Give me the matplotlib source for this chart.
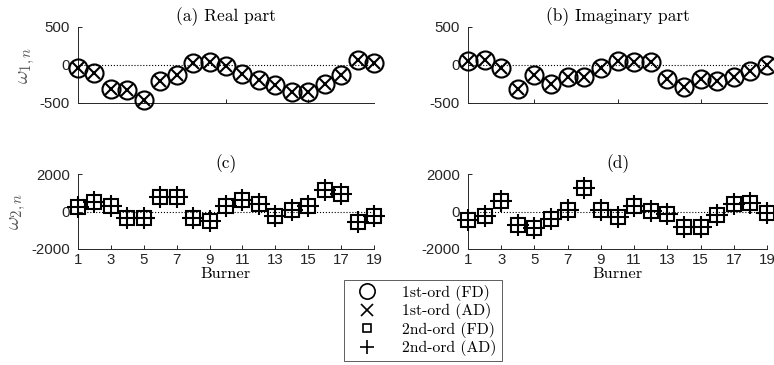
import numpy as np
import matplotlib.pyplot as plt
from matplotlib.lines import Line2D

plt.rcParams['font.family'] = ['Liberation Sans', 'DejaVu Sans']
plt.rcParams['axes.unicode_minus'] = False
plt.rcParams['mathtext.fontset'] = 'cm'

burner = np.arange(1, 20)

# first order, real / imaginary
w1_real = [-40, -110, -315, -323, -455, -205, -127, 26, 44, -9,
           -114, -192, -258, -358, -358, -245, -127, 61, 26]
w1_imag = [57, 70, -39, -315, -127, -249, -162, -162, -39, 48,
           39, 39, -184, -288, -184, -214, -162, -83, 4]
# second order, real / imaginary
w2_real = [214, 482, 304, -357, -357, 750, 750, -357, -500, 304,
           590, 393, -232, 54, 268, 1125, 930, -536, -232]
w2_imag = [-446, -232, 536, -714, -893, -393, 89, 1250, 89, -268,
           304, 36, -125, -840, -840, -179, 393, 446, -89]

titles = ['(a) Real part', '(b) Imaginary part', '(c)', '(d)']
serif = 'cmr10'

fig = plt.figure(figsize=(7.74, 3.65), dpi=100)
W, H = 774, 365

def make_ax(x0, x1, ytop, ybot):
    return fig.add_axes([x0 / W, 1 - ybot / H, (x1 - x0) / W, (ybot - ytop) / H])

axes = [make_ax(78, 374, 27, 103), make_ax(468, 767, 27, 103),
        make_ax(78, 374, 174, 249), make_ax(468, 767, 174, 249)]

data = [w1_real, w1_imag, w2_real, w2_imag]
gray = '#262626'

for i, ax in enumerate(axes):
    ax.plot([1, 19], [0, 0], ':', color='k', lw=0.8, zorder=1)
    if i < 2:
        ax.plot(burner, data[i], 'o', ms=13, mfc='none', mec='k', mew=1.5, clip_on=False, zorder=3)
        ax.plot(burner, data[i], 'x', ms=8, mec='k', mew=1.5, clip_on=False, zorder=3)
        ax.set_ylim(-500, 500)
        ax.set_yticks([-500, 0, 500])
        ax.set_xticks([5, 10, 15])
        ax.set_xticklabels([])
    else:
        ax.plot(burner, data[i], 's', ms=10, mfc='none', mec='k', mew=1.5, clip_on=False, zorder=3)
        ax.plot(burner, data[i], '+', ms=16, mec='k', mew=1.5, clip_on=False, zorder=3)
        ax.set_ylim(-2000, 2000)
        ax.set_yticks([-2000, 0, 2000])
        ax.set_xticks(np.arange(1, 20, 2))
        ax.set_xlabel('Burner', family=serif, fontsize=11.8, labelpad=0)
    ax.set_xlim(1, 19)
    ax.spines['top'].set_visible(False)
    ax.spines['right'].set_visible(False)
    ax.spines['left'].set_color(gray)
    ax.spines['bottom'].set_color(gray)
    ax.spines['left'].set_linewidth(0.7)
    ax.spines['bottom'].set_linewidth(0.7)
    ax.tick_params(direction='in', length=3, width=0.7, labelsize=10.8, colors=gray, pad=6)
    ax.tick_params(axis='x', pad=3)
    ax.set_title(titles[i], family=serif, fontsize=12.5, pad=4)

axes[0].set_ylabel(r'$\omega_{1,n}$', fontsize=15, color='#555555', labelpad=2)
axes[2].set_ylabel(r'$\omega_{2,n}$', fontsize=15, color='#555555', labelpad=2)

handles = [
    Line2D([], [], ls='none', marker='o', ms=11, mfc='none', mec='k', mew=1.2),
    Line2D([], [], ls='none', marker='x', ms=9, mec='k', mew=1.2),
    Line2D([], [], ls='none', marker='s', ms=6, mfc='none', mec='k', mew=1.2),
    Line2D([], [], ls='none', marker='+', ms=10, mec='k', mew=1.2),
]
labels = ['1st-ord (FD)', '1st-ord (AD)', '2nd-ord (FD)', '2nd-ord (AD)']
leg = fig.legend(handles, labels, loc='center', bbox_to_anchor=(423 / W, 1 - 320.5 / H),
                 prop={'family': serif, 'size': 11.3}, fancybox=False, framealpha=1,
                 edgecolor='#444444', borderpad=0.3, labelspacing=0.15, handletextpad=1.1,
                 handlelength=2.3)
leg.get_frame().set_linewidth(0.6)

fig.savefig('out.png', dpi=100)
